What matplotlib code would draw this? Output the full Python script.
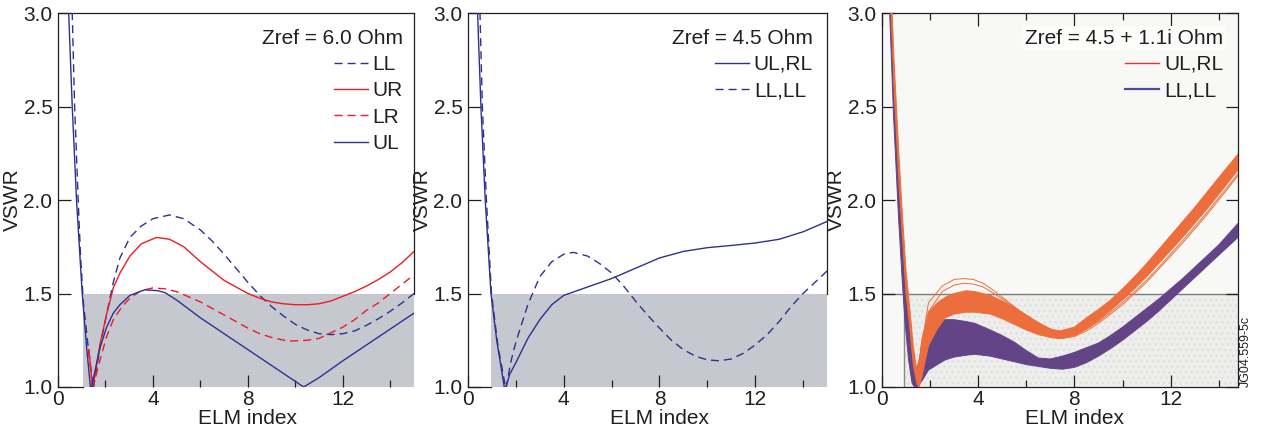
import numpy as np
import matplotlib
matplotlib.use('Agg')
import matplotlib.pyplot as plt
from matplotlib.lines import Line2D

plt.rcParams['font.family'] = ['Liberation Sans', 'DejaVu Sans']
plt.rcParams['font.size'] = 15
plt.rcParams['hatch.linewidth'] = 1.2

BLUE = '#2e3192'
RED = '#ed1c24'
ORANGE = '#ec6e3d'
PURPLE = '#634487'
SHADE = '#c6c8cf'
DASH = (5.8, 3.6)

# ---- panel 1 : Zref = 6.0 Ohm
ll6_x = [0.55, 0.6, 0.7, 0.85, 0.95, 1.07, 1.3, 1.49, 1.77, 2.05, 2.33, 2.61, 3.03, 3.5, 4.0, 4.7, 5.3, 6.0,
         6.5, 7.0, 7.5, 8.0, 8.5, 9.0, 9.5, 10.0, 10.5, 11.0, 11.5, 12.0, 12.5, 13.0, 13.5, 14.0, 14.5, 15.0]
ll6_y = [3.1, 3.0, 2.5, 2.0, 1.7, 1.45, 1.18, 0.99, 1.215, 1.39, 1.56, 1.69, 1.80, 1.86, 1.90, 1.92, 1.9, 1.84,
         1.78, 1.71, 1.635, 1.56, 1.49, 1.43, 1.38, 1.335, 1.305, 1.285, 1.28, 1.285, 1.30, 1.33, 1.365, 1.405, 1.45, 1.50]
ur6_x = [1.3, 1.46, 1.77, 2.05, 2.33, 2.61, 3.03, 3.5, 4.15, 4.7, 5.3, 6.0, 7.0, 8.0, 8.5, 9.0, 9.5, 10.0, 10.5,
         11.0, 11.5, 12.0, 12.5, 13.0, 13.5, 14.0, 14.5, 15.0]
ur6_y = [1.2, 0.99, 1.23, 1.39, 1.53, 1.61, 1.70, 1.765, 1.80, 1.79, 1.75, 1.67, 1.57, 1.5, 1.475, 1.455, 1.445, 1.44, 1.44,
         1.445, 1.46, 1.485, 1.51, 1.54, 1.575, 1.615, 1.665, 1.725]
lr6_x = [1.3, 1.46, 1.77, 2.05, 2.33, 2.7, 3.03, 3.5, 4.0, 4.5, 5.0, 6.0, 7.0, 8.0, 8.5, 9.0, 9.7, 10.5, 11.0,
         11.5, 12.0, 12.5, 13.0, 13.5, 14.0, 14.5, 15.0]
lr6_y = [1.2, 0.99, 1.145, 1.27, 1.36, 1.43, 1.475, 1.515, 1.53, 1.525, 1.51, 1.455, 1.385, 1.315, 1.285, 1.265, 1.245,
         1.25, 1.26, 1.29, 1.32, 1.36, 1.41, 1.45, 1.5, 1.55, 1.60]
ul6_x = [0.4, 0.45, 0.6, 0.78, 1.02, 1.2, 1.38, 1.77, 2.05, 2.33, 2.61, 3.03, 3.66, 4.2, 4.5, 5.0, 6.0, 7.0, 8.0,
         9.0, 10.0, 10.35, 11.0, 12.0, 13.0, 14.0, 15.0]
ul6_y = [3.2, 3.0, 2.5, 2.0, 1.5, 1.22, 0.98, 1.21, 1.32, 1.395, 1.44, 1.49, 1.52, 1.515, 1.505, 1.465, 1.37, 1.285, 1.2,
         1.115, 1.03, 1.0, 1.05, 1.14, 1.225, 1.31, 1.395]

# ---- panel 2 : Zref = 4.5 Ohm
ulrl45_x = [0.35, 0.4, 0.54, 0.72, 0.96, 1.2, 1.54, 1.75, 2.0, 2.5, 3.0, 3.5, 4.0, 5.0, 6.0, 7.0, 8.0, 9.0,
            10.0, 11.0, 12.0, 13.0, 14.0, 15.0]
ulrl45_y = [3.2, 3.0, 2.5, 2.0, 1.5, 1.25, 0.98, 1.07, 1.13, 1.26, 1.36, 1.44, 1.49, 1.535, 1.58, 1.635, 1.69, 1.725,
            1.745, 1.757, 1.77, 1.79, 1.83, 1.885]
llll45_x = [0.45, 0.5, 0.6, 0.77, 0.98, 1.25, 1.58, 1.8, 2.0, 2.5, 3.0, 3.5, 4.0, 4.4, 5.0, 5.5, 6.0, 6.5, 7.0,
            7.5, 8.0, 8.5, 9.0, 9.5, 10.0, 10.5, 11.0, 11.5, 12.0, 12.5, 13.0, 13.5, 14.0, 14.5, 15.0]
llll45_y = [3.15, 3.0, 2.5, 2.0, 1.5, 1.22, 0.99, 1.14, 1.24, 1.44, 1.59, 1.67, 1.71, 1.72, 1.70, 1.66, 1.61, 1.54, 1.46,
            1.385, 1.315, 1.25, 1.2, 1.165, 1.145, 1.14, 1.15, 1.18, 1.225, 1.28, 1.35, 1.43, 1.50, 1.56, 1.62]

# ---- panel 3 : Zref = 4.5 + 1.1i Ohm (envelopes of the scanned curves)
ora_x = [0.3, 0.35, 0.5, 0.7, 0.85, 1.0, 1.17, 1.3, 1.45, 1.55, 1.65, 1.93, 2.3, 2.63, 3.0, 3.5, 3.87, 4.5, 5.0,
         5.5, 6.0, 6.5, 7.0, 7.4, 8.0, 8.5, 9.0, 9.5, 10.0, 10.5, 11.0, 11.5, 12.0, 12.5, 13.0, 13.5, 14.0, 14.8]
ora_hi = [3.4, 3.25, 2.75, 2.25, 1.92, 1.62, 1.40, 1.22, 1.08, 1.13, 1.25, 1.40, 1.45, 1.48, 1.50, 1.515, 1.51, 1.49,
          1.46, 1.425, 1.385, 1.345, 1.31, 1.30, 1.32, 1.37, 1.415, 1.465, 1.525, 1.59, 1.66, 1.735, 1.81, 1.885,
          1.96, 2.04, 2.12, 2.245]
ora_lo = [3.25, 3.1, 2.6, 2.1, 1.8, 1.5, 1.3, 1.12, 1.02, 1.0, 1.05, 1.22, 1.31, 1.37, 1.39, 1.40, 1.40, 1.39,
          1.365, 1.335, 1.305, 1.28, 1.265, 1.26, 1.275, 1.31, 1.355, 1.41, 1.465, 1.525, 1.59, 1.66, 1.73, 1.80,
          1.875, 1.95, 2.03, 2.16]
pur_x = [0.2, 0.32, 0.48, 0.69, 0.85, 0.95, 1.1, 1.25, 1.4, 1.55, 1.65, 1.93, 2.3, 2.63, 3.0, 3.5, 3.87, 4.5, 5.0,
         5.5, 6.0, 6.5, 7.0, 7.5, 8.0, 8.5, 9.0, 9.5, 10.0, 10.5, 11.0, 11.5, 12.0, 12.5, 13.0, 13.5, 14.0, 14.8]
pur_hi = [3.55, 3.2, 2.65, 2.15, 1.8, 1.62, 1.4, 1.18, 1.08, 1.13, 1.235, 1.33, 1.355, 1.36, 1.36, 1.35, 1.34, 1.305,
          1.275, 1.24, 1.195, 1.155, 1.15, 1.165, 1.185, 1.21, 1.235, 1.275, 1.32, 1.37, 1.42, 1.47, 1.525, 1.58,
          1.64, 1.70, 1.76, 1.875]
pur_lo = [3.3, 3.0, 2.45, 1.9, 1.55, 1.36, 1.15, 1.02, 0.99, 1.015, 1.03, 1.09, 1.12, 1.145, 1.16, 1.17, 1.175, 1.165,
          1.15, 1.135, 1.12, 1.11, 1.10, 1.095, 1.105, 1.13, 1.165, 1.205, 1.25, 1.30, 1.35, 1.405, 1.465, 1.525,
          1.585, 1.645, 1.705, 1.80]
# a few single orange curves that leave the band
out_x = [1.0, 1.2, 1.4, 1.6, 1.93, 2.5, 3.0, 3.4, 3.8, 4.2, 4.6, 5.0, 5.5, 6.0, 6.5, 7.0]
out1_y = [1.6, 1.3, 1.08, 1.18, 1.45, 1.54, 1.575, 1.58, 1.575, 1.555, 1.52, 1.48, 1.43, 1.38, 1.34, 1.31]
out2_y = [1.58, 1.28, 1.06, 1.14, 1.4, 1.51, 1.545, 1.555, 1.55, 1.535, 1.505, 1.47, 1.425, 1.38, 1.34, 1.31]
tail_x = [7.0, 7.5, 8.0, 8.5, 9.0, 9.5, 10.0, 10.5, 11.0, 11.5, 12.0, 12.5, 13.0, 13.5, 14.0, 14.8]
tail1_y = [1.265, 1.26, 1.27, 1.3, 1.34, 1.39, 1.44, 1.5, 1.56, 1.63, 1.7, 1.77, 1.845, 1.92, 2.0, 2.13]
tail2_y = [1.265, 1.262, 1.275, 1.31, 1.35, 1.40, 1.452, 1.51, 1.572, 1.64, 1.712, 1.783, 1.857, 1.932, 2.012, 2.14]

xticks = [0, 4, 8, 12]
minor_xticks = [2, 6, 10, 14]
yticks = [1.0, 1.5, 2.0, 2.5, 3.0]

fig = plt.figure(figsize=(12.62, 4.30), dpi=100)
ax1 = fig.add_axes([58 / 1262, 43 / 430, 356 / 1262, 374 / 430])
ax2 = fig.add_axes([468 / 1262, 43 / 430, 359 / 1262, 374 / 430])
ax3 = fig.add_axes([882 / 1262, 43 / 430, 356 / 1262, 374 / 430])


def style(ax, xmax, width_px, frame=False):
    ax.set_xlim(0, xmax)
    ax.set_ylim(1.0, 3.0)
    ax.set_xticks(xticks)
    ax.set_xticks(minor_xticks, minor=True)
    ax.set_yticks(yticks)
    ax.set_yticklabels(['%.1f' % v for v in yticks])
    ax.tick_params(which='both', direction='in', color='#231f20', labelcolor='#231f20',
                   top=frame, right=frame, width=0.9)
    ax.tick_params(which='major', length=9, pad=2)
    ax.tick_params(which='minor', length=5)
    ax.tick_params(axis='y', pad=4)
    for s in ax.spines.values():
        s.set_linewidth(0.9)
        s.set_color('#231f20')
    ax.set_xlabel('ELM index', color='#231f20')
    ax.xaxis.set_label_coords(8 / xmax, -0.058)
    ax.set_ylabel('VSWR', color='#231f20')
    ax.yaxis.set_label_coords(-36 / width_px, 0.5)


def legend(ax, title, handles, labels, xr):
    leg = ax.legend(handles, labels, title=title, loc='upper right', frameon=False,
                    alignment='right', fontsize=15, title_fontsize=15, handlelength=1.6,
                    handletextpad=0.25, labelspacing=0.35, borderaxespad=0, borderpad=0,
                    bbox_to_anchor=(xr, 0.958))
    leg.get_title().set_color('#231f20')
    for t in leg.get_texts():
        t.set_color('#231f20')
    return leg


# panel 1
style(ax1, 15, 356)
ax1.fill_between([1.05, 15], 1.0, 1.5, color=SHADE, lw=0, zorder=1)
ax1.spines['bottom'].set_bounds(0, 1.05)
ax1.spines['right'].set_bounds(1.5, 3.0)
h_ll, = ax1.plot(ll6_x, ll6_y, color=BLUE, lw=1.0, dashes=DASH, zorder=3)
h_ur, = ax1.plot(ur6_x, ur6_y, color=RED, lw=1.0, zorder=3)
h_lr, = ax1.plot(lr6_x, lr6_y, color=RED, lw=1.0, dashes=DASH, zorder=3)
h_ul, = ax1.plot(ul6_x, ul6_y, color=BLUE, lw=1.0, zorder=3)
legend(ax1, 'Zref = 6.0 Ohm', [h_ll, h_ur, h_lr, h_ul], ['LL', 'UR', 'LR', 'UL'], 0.969)

# panel 2
style(ax2, 15, 359)
ax2.fill_between([0.96, 15], 1.0, 1.5, color=SHADE, lw=0, zorder=1)
ax2.spines['bottom'].set_bounds(0, 0.96)
ax2.spines['right'].set_bounds(1.5, 3.0)
h_a, = ax2.plot(ulrl45_x, ulrl45_y, color=BLUE, lw=1.0, zorder=3)
h_b, = ax2.plot(llll45_x, llll45_y, color=BLUE, lw=1.0, dashes=DASH, zorder=3)
legend(ax2, 'Zref = 4.5 Ohm', [h_a, h_b], ['UL,RL', 'LL,LL'], 0.961)

# panel 3
style(ax3, 14.8, 356, frame=True)
ax3.set_facecolor('#f8f8f6')
ax3.fill_between([0.9, 14.8], 1.0, 1.5, facecolor='#eeeeec', edgecolor='#e1e1df',
                 hatch='...', lw=0, zorder=1)
ax3.plot([0, 14.8], [1.5, 1.5], color='#7d7d7d', lw=1.0, zorder=1.5)
ax3.plot([0.9, 0.9], [1.0, 1.5], color='#8a8a8a', lw=1.0, zorder=1.5)
ax3.fill_between(pur_x, pur_lo, pur_hi, color=PURPLE, lw=0, zorder=3)
ax3.plot(pur_x, pur_hi, color=PURPLE, lw=0.7, zorder=3)
ax3.plot(pur_x, pur_lo, color=PURPLE, lw=0.7, zorder=3)
ax3.fill_between(ora_x, ora_lo, ora_hi, color=ORANGE, lw=0, zorder=4)
ax3.plot(ora_x, ora_hi, color=ORANGE, lw=0.7, zorder=4)
ax3.plot(ora_x, ora_lo, color=ORANGE, lw=0.7, zorder=4)
for oy in (out1_y, out2_y):
    ax3.plot(out_x, oy, color=ORANGE, lw=0.7, zorder=4)
for ty in (tail1_y, tail2_y):
    ax3.plot(tail_x, ty, color=ORANGE, lw=0.7, zorder=4)
leg3 = legend(ax3, 'Zref = 4.5 + 1.1i Ohm',
              [Line2D([], [], color='#e8322c', lw=1.0), Line2D([], [], color='#4b4b9c', lw=1.6)],
              ['UL,RL', 'LL,LL'], 0.958)
leg3.get_title().set_bbox(dict(facecolor='#fcfcfb', edgecolor='none', pad=2))
fig.text(1246 / 1262, 1 - 387 / 430, 'JG04.559-5c', rotation=90, fontsize=9,
         ha='center', va='bottom', color='#231f20')

fig.savefig('out.png', dpi=100)
